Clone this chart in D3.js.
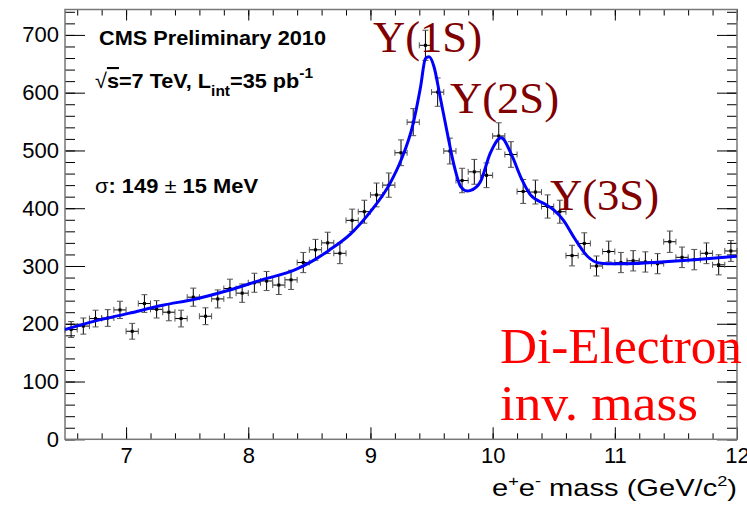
<!DOCTYPE html>
<html>
<head>
<meta charset="utf-8">
<script src="https://cdn.jsdelivr.net/npm/d3@7"></script>
<style>
  body { margin: 0; background: #fff; }
  text { font-family: "Liberation Sans", Arial, sans-serif; }
  text.serif { font-family: "Liberation Serif", "DejaVu Serif", serif; }
</style>
</head>
<body>
<svg id="chart" width="747" height="506"></svg>
<script>
// histogram bin centres (GeV/c^2), bin width 0.1
const binCenters = [6.55, 6.65, 6.75, 6.85, 6.95, 7.05, 7.15, 7.25, 7.35, 7.45,
  7.55, 7.65, 7.75, 7.85, 7.95, 8.05, 8.15, 8.25, 8.35, 8.45,
  8.55, 8.65, 8.75, 8.85, 8.95, 9.05, 9.15, 9.25, 9.35, 9.45,
  9.55, 9.65, 9.75, 9.85, 9.95, 10.05, 10.15, 10.25, 10.35, 10.45,
  10.55, 10.65, 10.75, 10.85, 10.95, 11.05, 11.15, 11.25, 11.35, 11.45,
  11.55, 11.65, 11.75, 11.85, 11.95];
const counts = [190, 196, 209, 210, 224, 187, 235, 225, 220, 209,
  246, 213, 243, 261, 253, 271, 274, 267, 276, 306,
  328, 340, 322, 379, 394, 423, 440, 496, 549, 682,
  601, 499, 448, 463, 457, 525, 493, 429, 428, 403,
  394, 318, 339, 300, 325, 306, 309, 307, 304, 342,
  315, 311, 322, 302, 326];
const binHalfWidth = 0.05;

// fit curve
const fitX = [6.5, 6.75, 7.02, 7.3, 7.57, 7.84, 8.11, 8.39, 8.52, 8.66,
  8.84, 9.0, 9.16, 9.25, 9.35, 9.41, 9.45, 9.48, 9.52, 9.57,
  9.63, 9.68, 9.74, 9.79, 9.82, 9.9, 9.98, 10.07, 10.15, 10.23,
  10.31, 10.42, 10.5, 10.58, 10.67, 10.78, 10.87, 10.94, 11.1, 11.38,
  11.65, 12.0];
const fitY = [190, 205, 218, 232, 243, 258, 276, 294, 308, 327,
  356, 394, 443, 483, 547, 610, 659, 662, 645, 593,
  529, 478, 437, 430, 431, 446, 495, 522, 495, 454,
  423, 408, 397, 379, 348, 316, 305, 304, 304, 307,
  311, 317];

const xMajor = [7, 8, 9, 10, 11, 12];
const yMajor = [0, 100, 200, 300, 400, 500, 600, 700];

const peakLabels = ["Υ(1S)", "Υ(2S)", "Υ(3S)"];

const width = 747, height = 506;
const margin = { top: 9.5, right: 10, bottom: 66.7, left: 65 };
const x0 = margin.left, x1 = width - margin.right;
const y0 = height - margin.bottom, y1 = margin.top;

const svg = d3.select("#chart");
svg.append("rect").attr("width", width).attr("height", height).attr("fill", "#fff");

const x = d3.scaleLinear().domain([6.5, 12]).range([x0, x1]);
const y = d3.scaleLinear().domain([0, 744]).range([y0, y1]);

const xMinor = d3.range(33, 61).map((d) => d / 5);
const yMinor = d3.range(0, 38).map((d) => d * 20);

function styleAxis(g) {
  g.select(".domain").remove();
  g.selectAll(".tick line").attr("stroke", "#000");
  g.selectAll("text").attr("font-size", 22).attr("fill", "#000")
    .attr("font-family", null);
}

// bottom
svg.append("g").attr("transform", `translate(0,${y0})`)
  .call(d3.axisBottom(x).tickValues(xMinor).tickSize(-6).tickFormat(""))
  .call(styleAxis);
svg.append("g").attr("transform", `translate(0,${y0})`)
  .call(d3.axisBottom(x).tickValues(xMajor).tickSize(-12).tickPadding(8)
    .tickFormat(d3.format("d")))
  .call(styleAxis);
// top
svg.append("g").attr("transform", `translate(0,${y1})`)
  .call(d3.axisTop(x).tickValues(xMinor).tickSize(-6).tickFormat(""))
  .call(styleAxis);
svg.append("g").attr("transform", `translate(0,${y1})`)
  .call(d3.axisTop(x).tickValues(xMajor).tickSize(-11).tickFormat(""))
  .call(styleAxis);
// left
svg.append("g").attr("transform", `translate(${x0},0)`)
  .call(d3.axisLeft(y).tickValues(yMinor).tickSize(-10).tickFormat(""))
  .call(styleAxis);
svg.append("g").attr("transform", `translate(${x0},0)`)
  .call(d3.axisLeft(y).tickValues(yMajor).tickSize(-20).tickPadding(6)
    .tickFormat(d3.format("d")))
  .call(styleAxis);
// right
svg.append("g").attr("transform", `translate(${x1},0)`)
  .call(d3.axisRight(y).tickValues(yMinor).tickSize(-10).tickFormat(""))
  .call(styleAxis);
svg.append("g").attr("transform", `translate(${x1},0)`)
  .call(d3.axisRight(y).tickValues(yMajor).tickSize(-20).tickFormat(""))
  .call(styleAxis);

// frame
svg.append("rect")
  .attr("x", x0).attr("y", y1)
  .attr("width", x1 - x0).attr("height", y0 - y1)
  .attr("fill", "none").attr("stroke", "#777").attr("stroke-width", 1.5);

svg.append("clipPath").attr("id", "plot")
  .append("rect").attr("x", x0).attr("y", y1)
  .attr("width", x1 - x0).attr("height", y0 - y1);

// data points with errors (Poisson: sqrt of counts)
const pts = binCenters.map((c, i) => ({ c, v: counts[i], e: Math.sqrt(counts[i]) }));
const cap = 3;
const eb = svg.append("g");
const pg = eb.selectAll("g").data(pts).join("g");
pg.append("line")
  .attr("x1", (d) => x(d.c)).attr("x2", (d) => x(d.c))
  .attr("y1", (d) => y(d.v - d.e)).attr("y2", (d) => y(d.v + d.e))
  .attr("stroke", "#000");
pg.append("line")
  .attr("x1", (d) => x(d.c - binHalfWidth)).attr("x2", (d) => x(d.c + binHalfWidth))
  .attr("y1", (d) => y(d.v)).attr("y2", (d) => y(d.v))
  .attr("stroke", "#000");
// end caps
pg.selectAll(".vc").data((d) => [[d.c, d.v - d.e], [d.c, d.v + d.e]]).join("line")
  .attr("x1", (d) => x(d[0]) - cap).attr("x2", (d) => x(d[0]) + cap)
  .attr("y1", (d) => y(d[1])).attr("y2", (d) => y(d[1]))
  .attr("stroke", "#555");
pg.selectAll(".hc").data((d) => [[d.c - binHalfWidth, d.v], [d.c + binHalfWidth, d.v]]).join("line")
  .attr("x1", (d) => x(d[0])).attr("x2", (d) => x(d[0]))
  .attr("y1", (d) => y(d[1]) - cap).attr("y2", (d) => y(d[1]) + cap)
  .attr("stroke", "#555");
pg.append("rect")
  .attr("x", (d) => x(d.c) - 1.5).attr("y", (d) => y(d.v) - 1.5)
  .attr("width", 3).attr("height", 3).attr("fill", "#000");

// fit
const line = d3.line()
  .x((d) => x(d[0])).y((d) => y(d[1]))
  .curve(d3.curveMonotoneX);
svg.append("path")
  .datum(fitX.map((d, i) => [d, fitY[i]]))
  .attr("clip-path", "url(#plot)")
  .attr("fill", "none").attr("stroke", "#0000ff").attr("stroke-width", 3)
  .attr("d", line);

// text block, top left
svg.append("text").attr("x", 99).attr("y", 45)
  .attr("font-size", 21).attr("font-weight", "bold")
  .attr("textLength", 227).attr("lengthAdjust", "spacingAndGlyphs")
  .text("CMS Preliminary 2010");
const t2 = svg.append("text").attr("x", 95).attr("y", 88)
  .attr("font-size", 21).attr("font-weight", "bold")
  .attr("textLength", 218).attr("lengthAdjust", "spacingAndGlyphs");
t2.append("tspan").attr("font-weight", "normal").text("√");
t2.append("tspan").style("text-decoration", "overline").text("s");
t2.append("tspan").text("=7 TeV, L");
t2.append("tspan").attr("font-size", 15).attr("dy", 8).text("int");
t2.append("tspan").attr("dy", -8).text("=35 pb");
t2.append("tspan").attr("font-size", 15).attr("dy", -10).text("-1");
const t3 = svg.append("text").attr("x", 95).attr("y", 193)
  .attr("font-size", 21).attr("font-weight", "bold")
  .attr("textLength", 163).attr("lengthAdjust", "spacingAndGlyphs");
t3.append("tspan").attr("font-weight", "normal").text("σ");
t3.append("tspan").text(": 149 ");
t3.append("tspan").attr("font-weight", "normal").text("±");
t3.append("tspan").text(" 15 MeV");

// peak labels
const peakPos = [[373, 52], [450, 113], [550, 210]];
svg.append("g").selectAll("text").data(peakLabels).join("text")
  .attr("class", "serif")
  .attr("x", (d, i) => peakPos[i][0]).attr("y", (d, i) => peakPos[i][1])
  .attr("font-size", 45).attr("fill", "#800000")
  .attr("textLength", 109).attr("lengthAdjust", "spacingAndGlyphs")
  .text((d) => d);

svg.append("text").attr("class", "serif").attr("x", 500).attr("y", 363)
  .attr("font-size", 50).attr("fill", "#ff0000")
  .attr("textLength", 242).attr("lengthAdjust", "spacingAndGlyphs")
  .text("Di-Electron");
svg.append("text").attr("class", "serif").attr("x", 500).attr("y", 420)
  .attr("font-size", 50).attr("fill", "#ff0000")
  .attr("textLength", 198).attr("lengthAdjust", "spacingAndGlyphs")
  .text("inv. mass");

// x title
const xt = svg.append("text").attr("x", x1).attr("y", 496)
  .attr("text-anchor", "end").attr("font-size", 24)
  .attr("textLength", 245).attr("lengthAdjust", "spacingAndGlyphs");
xt.append("tspan").text("e");
xt.append("tspan").attr("font-size", 15).attr("dy", -10).text("+");
xt.append("tspan").attr("dy", 10).text("e");
xt.append("tspan").attr("font-size", 15).attr("dy", -10).text("-");
xt.append("tspan").attr("dy", 10).text(" mass (GeV/c");
xt.append("tspan").attr("font-size", 15).attr("dy", -10).text("2");
xt.append("tspan").attr("dy", 10).text(")");
</script>
</body>
</html>
